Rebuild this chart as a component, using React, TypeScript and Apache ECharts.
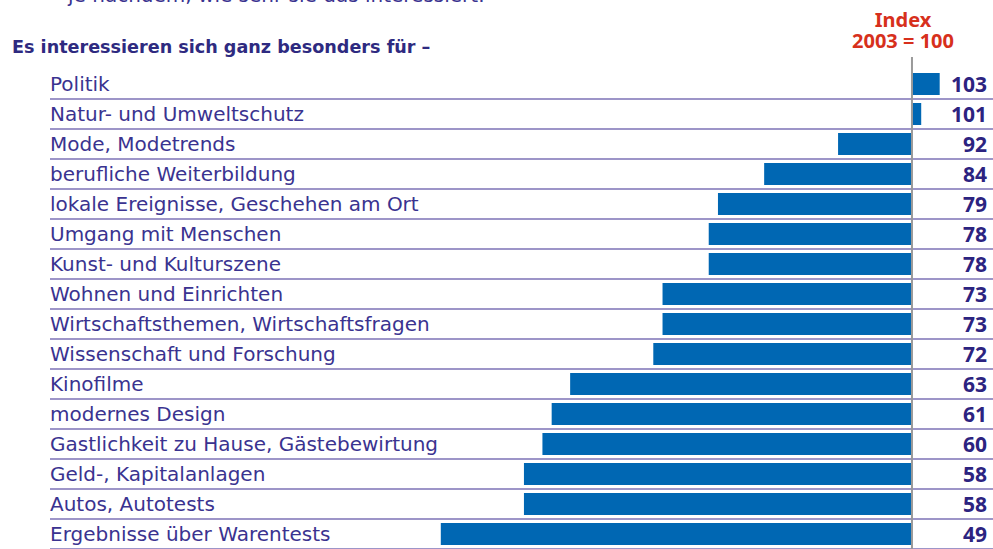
import React, { useEffect, useRef } from "react";
import * as echarts from "echarts";

const categories = [
  "Politik",
  "Natur- und Umweltschutz",
  "Mode, Modetrends",
  "berufliche Weiterbildung",
  "lokale Ereignisse, Geschehen am Ort",
  "Umgang mit Menschen",
  "Kunst- und Kulturszene",
  "Wohnen und Einrichten",
  "Wirtschaftsthemen, Wirtschaftsfragen",
  "Wissenschaft und Forschung",
  "Kinofilme",
  "modernes Design",
  "Gastlichkeit zu Hause, Gästebewirtung",
  "Geld-, Kapitalanlagen",
  "Autos, Autotests",
  "Ergebnisse über Warentests",
];
const values = [103, 101, 92, 84, 79, 78, 78, 73, 73, 72, 63, 61, 60, 58, 58, 49];
const baseIndex = 100;
const topText = "je nachdem, wie sehr sie das interessiert.";
const headerTitle = "Es interessieren sich ganz besonders für –";
const indexLines = ["Index", "2003 = 100"];

const FONT = "'DejaVu Sans', sans-serif";
const NUM_FONT = "'Noto Sans', sans-serif";

export default function App() {
  const ref = useRef<HTMLDivElement>(null);
  useEffect(() => {
    document.body.style.margin = "0";
    const chart = echarts.init(ref.current!, null, { renderer: "svg" });
    const deltas = values.map((v) => v - baseIndex);
    const xMin = -93.3;
    const xMax = 8.77;
    chart.setOption({
      animation: false,
      grid: { left: 50, right: 0, top: 69, height: 482 },
      xAxis: { type: "value", min: xMin, max: xMax, show: false, splitLine: { show: false } },
      yAxis: [
        {
          type: "category",
          data: categories,
          inverse: true,
          position: "left",
          axisLine: { show: false },
          axisTick: { show: false },
          axisLabel: {
            inside: true,
            align: "left",
            margin: 0,
            color: "#3a3390",
            fontFamily: FONT,
            fontSize: 20,
          },
          splitLine: {
            show: true,
            interval: (i: number) => i > 0,
            lineStyle: { color: "#9d95c8", width: 2 },
          },
        },
        {
          type: "category",
          data: values.map(String),
          inverse: true,
          position: "right",
          axisLine: { show: false },
          axisTick: { show: false },
          splitLine: { show: false },
          axisLabel: {
            inside: true,
            align: "right",
            margin: 6,
            color: "#2c2380",
            fontFamily: NUM_FONT,
            fontWeight: "bold",
            fontSize: 21,
          },
        },
      ],
      series: [
        {
          type: "bar",
          data: deltas,
          barWidth: 22,
          itemStyle: { color: "#0067b3" },
          z: 2,
        },
      ],
    });
    const lineX = chart.convertToPixel({ xAxisIndex: 0 }, 0) as number;
    chart.setOption({
      graphic: [
        {
          type: "line",
          shape: { x1: lineX, y1: 57, x2: lineX, y2: 549 },
          style: { stroke: "#9a9a9a", lineWidth: 2 },
          z: 10,
        },
        {
          type: "text",
          x: 68,
          y: 5,
          style: {
            text: topText,
            font: `20px ${FONT}`,
            fill: "#3a3390",
            align: "left",
            verticalAlign: "bottom",
          },
        },
        {
          type: "text",
          x: 12,
          y: 47,
          style: {
            text: headerTitle,
            font: `bold 17.6px ${FONT}`,
            fill: "#2e2a80",
            align: "left",
            verticalAlign: "middle",
          },
        },
        {
          type: "text",
          x: 903,
          y: 29.5,
          style: {
            text: indexLines.join("\n"),
            font: `bold 20px ${NUM_FONT}`,
            lineHeight: 21,
            fill: "#d7301c",
            align: "center",
            verticalAlign: "middle",
          },
        },
      ],
    });
    return () => chart.dispose();
  }, []);
  return <div ref={ref} style={{ width: 993, height: 549 }} />;
}
